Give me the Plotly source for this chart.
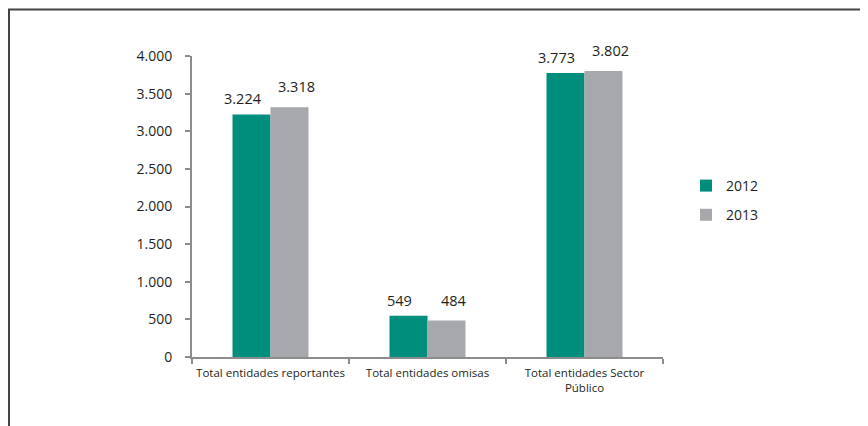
import plotly.graph_objects as go

categories = ["Total entidades reportantes", "Total entidades omisas", "Total entidades Sector<br>Público"]
series_names = ["2012", "2013"]
values_2012 = [3224, 549, 3773]
values_2013 = [3318, 484, 3802]
y_ticks = [0, 500, 1000, 1500, 2000, 2500, 3000, 3500, 4000]
colors = ["#008E7C", "#A7A8AB"]

def fmt(v):
    return f"{v:,}".replace(",", ".")

# label placement style: pixel offsets from the category centre / bar top
label_xshift = [-28, 26]
label_yshift = [4, 9]

fig = go.Figure()
for name, vals, c in zip(series_names, [values_2012, values_2013], colors):
    fig.add_trace(go.Bar(
        x=categories, y=vals, name=name, legendgroup=name,
        marker_color=c, marker_line_width=0,
    ))

annotations = []
for vals, xs, ys in zip([values_2012, values_2013], label_xshift, label_yshift):
    for cat, v in zip(categories, vals):
        annotations.append(dict(
            x=cat, y=v, xref="x", yref="y", text=fmt(v), showarrow=False,
            xanchor="center", yanchor="bottom", xshift=xs, yshift=ys,
            font=dict(size=14.5, color="#231F20", family="Open Sans"),
        ))

OFF = 8  # page body offset
W, H = 868 - OFF, 426 - OFF
L, R, T, B = 192 - OFF, 663 - OFF, 56 - OFF, 357 - OFF
pw, ph = R - L, B - T

def px(x):
    return (x - OFF - L) / pw

def py(y):
    return (B - (y - OFF)) / ph

fig.update_layout(
    width=W, height=H,
    margin=dict(l=L, r=W - R, t=T, b=H - B, pad=0),
    paper_bgcolor="white", plot_bgcolor="white",
    barmode="group", bargap=0.516, bargroupgap=0,
    separators=",.",
    font=dict(family="Open Sans", color="#231F20"),
    annotations=annotations,
    legend=dict(x=px(686), y=py(170), xanchor="left", yanchor="top",
                font=dict(size=14), itemwidth=30, tracegroupgap=8,
                bgcolor="rgba(0,0,0,0)"),
    xaxis=dict(showline=True, linecolor="#8c8c8c", linewidth=2,
               ticks="outside", tickson="boundaries", ticklen=5,
               tickcolor="#8c8c8c", tickwidth=2, tickangle=0, automargin=False,
               ticklabelstandoff=4,
               tickfont=dict(size=11.5), showgrid=False),
    yaxis=dict(range=[0, 4000], tickvals=y_ticks,
               ticktext=[fmt(v) for v in y_ticks],
               showline=True, linecolor="#8c8c8c", linewidth=2,
               ticks="outside", ticklen=5, tickcolor="#8c8c8c", tickwidth=2,
               ticklabelstandoff=10, automargin=False,
               tickfont=dict(size=14), showgrid=False, zeroline=False),
    shapes=[
        dict(type="line", xref="paper", yref="paper", x0=px(8), x1=px(880),
             y0=py(9.5), y1=py(9.5), line=dict(color="#444444", width=2)),
        dict(type="line", xref="paper", yref="paper", x0=px(9), x1=px(9),
             y0=py(9.5), y1=py(440), line=dict(color="#444444", width=2)),
    ],
)

fig.write_html("out.html")
